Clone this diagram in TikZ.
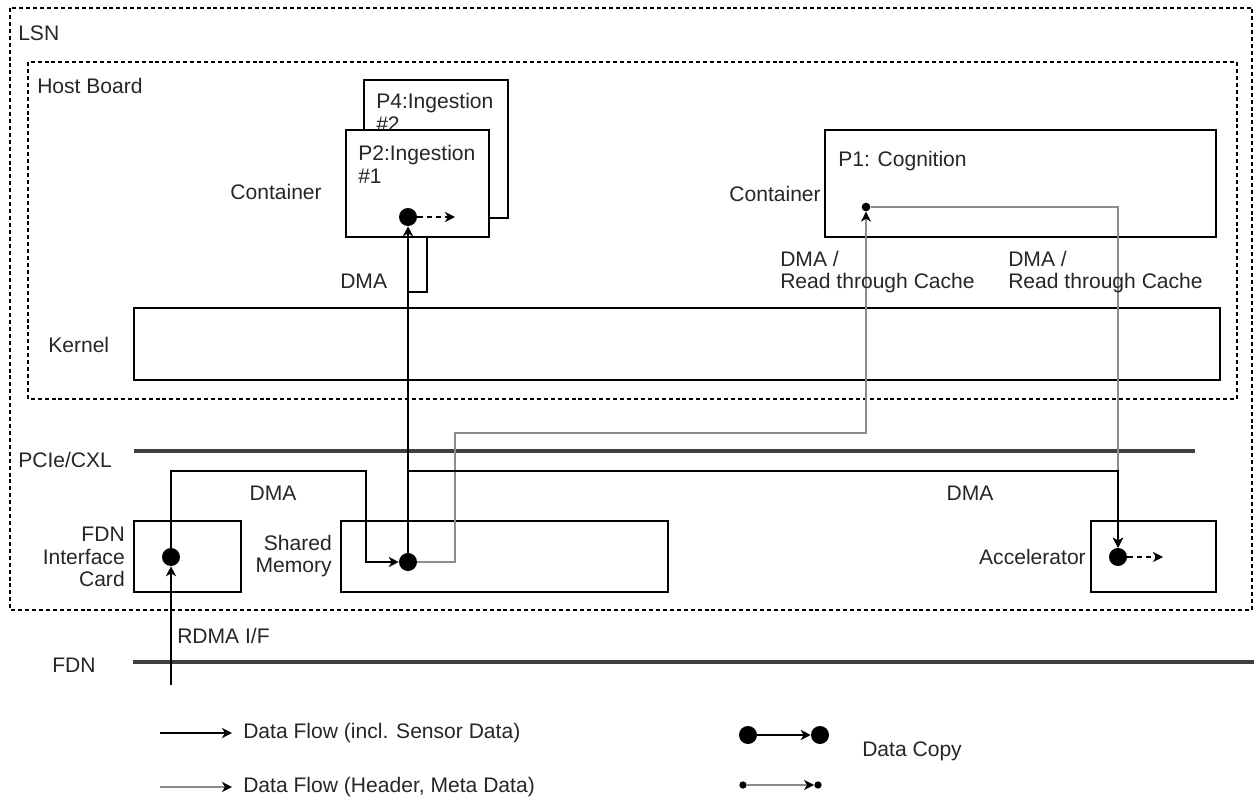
\documentclass[tikz,border=0pt]{standalone}
\usepackage{fontspec}
\setmainfont{Liberation Sans}
\usetikzlibrary{arrows.meta}

\tikzset{
    box/.style={draw, line width=1.2pt, fill=white, inner sep=0pt},
    region/.style={draw, line width=0.8pt, dash pattern=on 3pt off 2.2pt},
    bigdot/.style={circle, fill, inner sep=0pt, minimum size=13.5pt},
    smalldot/.style={circle, fill, inner sep=0pt, minimum size=6.5pt},
    tip/.style={-{Stealth[length=7.5pt, width=7.5pt, inset=2.2pt, color=black]}},
    flow/.style={line width=1.1pt, tip},
    meta/.style={line width=1.1pt, black!45, tip},
    copyout/.style={line width=1.1pt, dash pattern=on 4pt off 3pt, tip},
    bus/.style={line width=2.6pt, black!75},
    lbl/.style={inner sep=0pt, text=black!85}
}

\begin{document}
\begin{tikzpicture}[x=0.75pt, y=-0.75pt, font=\fontsize{15.8}{17}\selectfont]
    \useasboundingbox (0,0) rectangle (1254,799);

    % Regions
    \draw[region] (10,8) rectangle (1252,610);
    \draw[region] (28,62) rectangle (1237,399);
    \node[lbl, anchor=west] (lsn) at (18,33) {LSN};
    \node[lbl, anchor=west] (host) at (37,86) {Host Board};

    % Containers
    \node[box, minimum width=108pt, minimum height=103.5pt] (p4) at (436,149) {};
    \node[lbl, anchor=north west, align=left] (p4t) at (376,93) {P4:Ingestion\\\#2};
    \node[box, minimum width=107.25pt, minimum height=80.25pt] (p2) at (417.5,183.5) {};
    \node[lbl, anchor=north west, align=left] (p2t) at (358,145) {P2:Ingestion\\\#1};
    \node[box, minimum width=293.25pt, minimum height=80.25pt] (p1) at (1020.5,183.5) {};
    \node[lbl, anchor=north west] (p1t) at (838,151) {P1: Cognition};
    \node[lbl, anchor=east] (cont1) at (322,192) {Container};
    \node[lbl, anchor=east] (cont2) at (821,194) {Container};

    % Kernel
    \node[box, minimum width=814.5pt, minimum height=54pt] (kernel) at (677,344) {};
    \node[lbl, anchor=west] (kernelt) at (48,345) {Kernel};

    % Buses
    \coordinate (pcieL) at (134,451);
    \coordinate (pcieR) at (1195,451);
    \draw[bus] (pcieL) -- (pcieR);
    \node[lbl, anchor=west] (pcie) at (18,460) {PCIe/CXL};
    \coordinate (fdnL) at (133,662);
    \coordinate (fdnR) at (1254,662);
    \draw[bus] (fdnL) -- (fdnR);
    \node[lbl, anchor=west] (fdn) at (52,665) {FDN};

    % Devices
    \node[box, minimum width=80.25pt, minimum height=53.25pt] (card) at (187.5,556.5) {};
    \node[lbl, anchor=east, align=right] (cardt) at (125,557) {FDN\\Interface\\Card};
    \node[box, minimum width=245.25pt, minimum height=53.25pt] (shmem) at (504.5,556.5) {};
    \node[lbl, anchor=east, align=right] (shmemt) at (332,556) {Shared\\Memory};
    \node[box, minimum width=93.75pt, minimum height=53.25pt] (accel) at (1153.5,556.5) {};
    \node[lbl, anchor=east] (accelt) at (1086,557) {Accelerator};

    % Data copies
    \node[bigdot] (p2dot) at (408,217) {};
    \node[bigdot] (shdot) at (408,562) {};
    \node[bigdot] (carddot) at (171,557) {};
    \node[bigdot] (acdot) at (1118,557) {};
    \node[smalldot] (p1dot) at (866,207) {};

    % Meta data paths
    \coordinate (cacheA) at (455,433);
    \draw[meta] (shdot) -| (cacheA) -| (p1dot);
    \draw[meta] (p1dot) -| (acdot);

    % Data paths
    \coordinate (rdmain) at (171,685);
    \draw[flow] (rdmain) -- (carddot);
    \coordinate (dmaA) at (366,471);
    \draw[flow] (carddot) |- (dmaA) |- (shdot);
    \draw[flow] (shdot) -- (p2dot);
    \coordinate (loopA) at (427,237);
    \coordinate (loopB) at (408,292);
    \draw[line width=1.1pt] (loopA) |- (loopB);
    \draw[flow] (shdot |- dmaA) -| (acdot);
    \coordinate (p2out) at (455,217);
    \draw[copyout] (p2dot) -- (p2out);
    \coordinate (acout) at (1163,557);
    \draw[copyout] (acdot) -- (acout);

    % Path labels
    \node[lbl, anchor=west] (rdma) at (177,636) {RDMA I/F};
    \node[lbl] (dma1) at (273,493) {DMA};
    \node[lbl] (dma2) at (970,493) {DMA};
    \node[lbl, anchor=west] (dma3) at (340,281) {DMA};
    \node[lbl, anchor=west, align=left] (cache1) at (780,272) {DMA /\\Read through Cache};
    \node[lbl, anchor=west, align=left] (cache2) at (1008,272) {DMA /\\Read through Cache};

    % Legend
    \coordinate (legAs) at (160,733);
    \coordinate (legAe) at (232,733);
    \draw[flow] (legAs) -- (legAe);
    \node[lbl, anchor=west] (legAt) at (243,733) {Data Flow (incl. Sensor Data)};
    \coordinate (legBs) at (160,787);
    \coordinate (legBe) at (232,787);
    \draw[meta] (legBs) -- (legBe);
    \node[lbl, anchor=west] (legBt) at (243,787) {Data Flow (Header, Meta Data)};
    \node[bigdot] (cpA) at (748,735) {};
    \node[bigdot] (cpB) at (820,735) {};
    \draw[flow] (cpA) -- (cpB);
    \node[smalldot, minimum size=5.5pt] (mcA) at (743,785) {};
    \node[smalldot, minimum size=5.5pt] (mcB) at (818,785) {};
    \draw[meta] (mcA) -- (mcB);
    \node[lbl, anchor=west] (copyt) at (862,751) {Data Copy};

\end{tikzpicture}
\end{document}
